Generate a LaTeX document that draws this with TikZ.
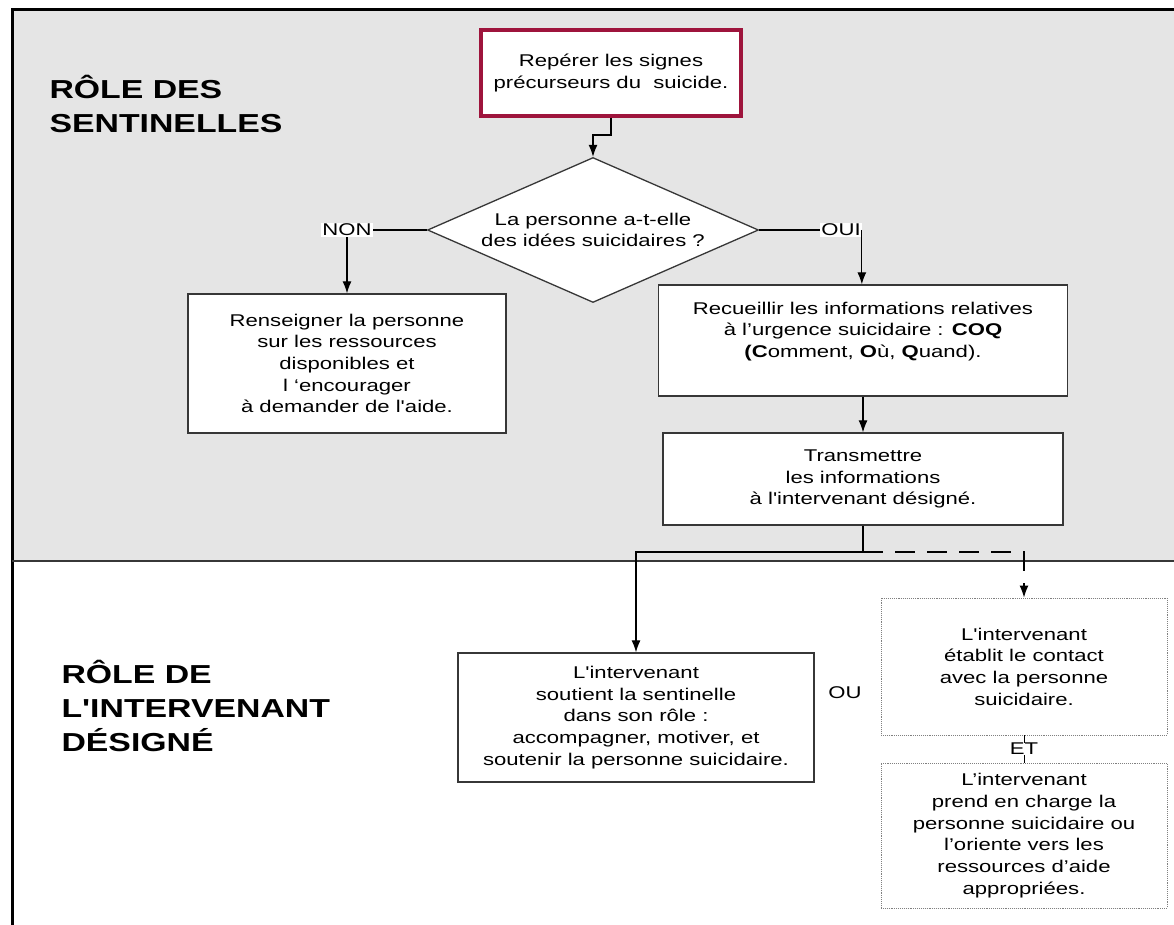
\documentclass[tikz,border=0pt]{standalone}
\usepackage{fontspec}
\setmainfont[FakeStretch=1.3, Ligatures=TeXOff]{Liberation Sans}
\usetikzlibrary{arrows.meta, positioning, shapes.geometric}

\definecolor{fondgris}{RGB}{229,229,229}
\definecolor{bordeaux}{RGB}{158,20,60}
\definecolor{trait}{RGB}{55,55,55}

\begin{document}
\begin{tikzpicture}[x=1pt, y=-1pt, >={Latex[length=12pt,width=9pt]},
		boite/.style={draw=trait, line width=1.3pt, fill=white, align=center, inner sep=0pt,
			font=\fontsize{17}{21.7}\selectfont},
		pointille/.style={boite, draw=gray, line width=0.9pt, densely dotted},
		etiquette/.style={fill=white, inner sep=1pt, font=\fontsize{17}{20}\selectfont},
		titre/.style={anchor=west, align=left, font=\fontsize{26}{34}\selectfont\bfseries},
		fleche/.style={draw=black, line width=1.2pt}]
		
		\useasboundingbox (0,0) rectangle (1174,925);
		
		% --- Cadre et zone grise (sentinelles)
		\fill[fondgris] (12,10) rectangle (1174,561);
		\draw[line width=3pt] (1174,10) -- (12,10) -- (12,925);
		\draw[trait, line width=1.5pt] (12,561) -- (1174,561);
		
		% Titres des deux zones
		\node[titre] (titre1) at (46,104) {RÔLE DES\\SENTINELLES};
		\node[titre] (titre2) at (58,706) {RÔLE DE\\L'INTERVENANT\\DÉSIGNÉ};
		
		% --- Étapes de la sentinelle
		\node[boite, draw=bordeaux, line width=3.5pt, minimum width=260pt, minimum height=86pt]
			(depart) at (611,73) {Repérer les signes\\précurseurs du\ \ suicide.};
		\node[boite, diamond, shape aspect=2.28, minimum width=331pt, minimum height=145pt]
			(question) at (593,230) {La personne a-t-elle\\des idées suicidaires ?};
		\node[boite, minimum width=318pt, minimum height=139pt]
			(renseigner) at (347,363.5) {Renseigner la personne\\sur les ressources\\disponibles et\\l ‘encourager\\à demander de l'aide.};
		\node[boite, minimum width=409pt, minimum height=111pt]
			(recueillir) at (863,340.5) {Recueillir les informations relatives\\à l’urgence suicidaire : \textbf{COQ}\\\textbf{(C}omment, \textbf{O}ù, \textbf{Q}uand).\\\mbox{}};
		\node[boite, minimum width=400pt, minimum height=92pt]
			(transmettre) at (863,479) {Transmettre\\les informations\\à l'intervenant désigné.};
		
		% Réponses NON / OUI
		\node[etiquette] (non) at (347,230) {NON};
		\node[etiquette] (oui) at (841,230) {OUI};
		
		% --- Étapes de l'intervenant
		\node[boite, minimum width=356pt, minimum height=129pt]
			(soutient) at (636,717.5) {L'intervenant\\soutient la sentinelle\\dans son rôle :\\accompagner, motiver, et\\soutenir la personne suicidaire.};
		\node[pointille, minimum width=286pt, minimum height=137pt]
			(etablit) at (1024,666.5) {L'intervenant\\établit le contact\\avec la personne\\suicidaire.};
		\node[pointille, minimum width=286pt, minimum height=145pt]
			(prend) at (1024,835.5) {L’intervenant\\prend en charge la\\personne suicidaire ou\\l’oriente vers les\\ressources d’aide\\appropriées.};
		\node[etiquette, inner sep=0pt] (ou) at (845,693) {OU};
		
		% --- Flèches
		\coordinate (coude) at (0,135);
		\coordinate (noeud) at (863,552);
		\draw[fleche, ->] (depart.south) -- (depart.south |- coude) -| (question.north);
		\draw[fleche] (question.west) -- (non.east);
		\draw[fleche, ->] (non.south) -- (non.south |- renseigner.north);
		\draw[fleche] (question.east) -- (oui.west);
		\draw[fleche, ->] (oui.east) -- (oui.east |- recueillir.north);
		\draw[fleche, ->] (recueillir.south) -- (transmettre.north);
		\draw[fleche] (transmettre.south) -- (noeud);
		\draw[fleche, ->] (noeud) -| (soutient.north);
		\draw[fleche, ->, dash pattern=on 20pt off 12pt] (noeud) -| (etablit.north);
		\draw[fleche, line width=0.8pt] (etablit.south) -- (prend.north)
			node[etiquette, midway, inner sep=0pt] (et) {ET};
		
	\end{tikzpicture}
\end{document}
